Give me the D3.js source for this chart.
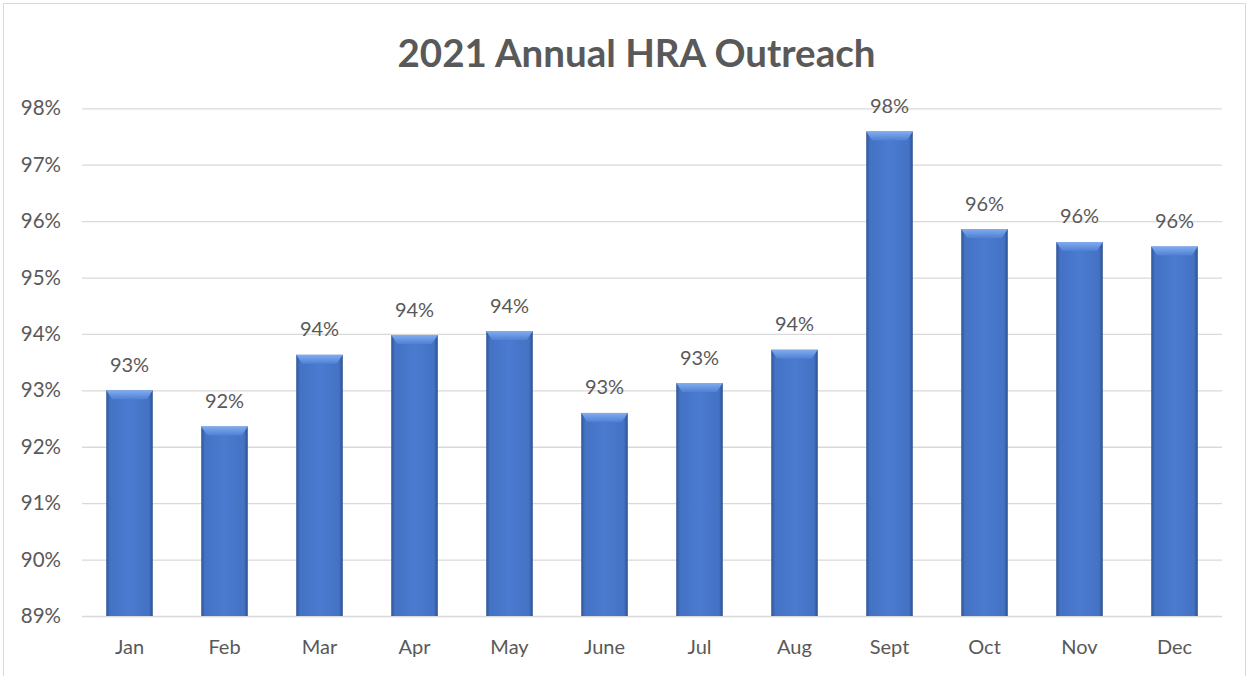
<!DOCTYPE html>
<html>
<head>
<meta charset="utf-8">
<script src="https://cdn.jsdelivr.net/npm/d3@7"></script>
<style>
  body { margin: 0; background: #fff; }
  text { font-family: Lato, "Open Sans", sans-serif; }
</style>
</head>
<body>
<div id="chart"></div>
<script>
// Veriler
const months = ["Jan", "Feb", "Mar", "Apr", "May", "June", "Jul", "Aug", "Sept", "Oct", "Nov", "Dec"];
const outreach = [93.0, 92.36, 93.63, 93.98, 94.05, 92.6, 93.13, 93.72, 97.59, 95.86, 95.63, 95.55];
const yTicks = [89, 90, 91, 92, 93, 94, 95, 96, 97, 98];

const width = 1249;
const height = 676;
const plotLeft = 82, plotRight = 1222, plotTop = 108.3, plotBottom = 616;

const svg = d3.select('#chart')
    .append('svg')
    .attr('width', width)
    .attr('height', height);

// Dış çerçeve
svg.append("rect")
    .attr("x", 3.5).attr("y", 3.5)
    .attr("width", width - 7).attr("height", height)
    .attr("fill", "#fff")
    .attr("stroke", "#d9d9d9");

const x = d3.scaleBand()
    .domain(months)
    .range([plotLeft, plotRight])
    .paddingInner(0.51)
    .paddingOuter(0.255);

const y = d3.scaleLinear()
    .domain([89, 98])
    .range([plotBottom, plotTop]);

// Gradyanlar
const defs = svg.append("defs");
const grad = defs.append("linearGradient").attr("id", "barGrad")
    .attr("x1", "0").attr("x2", "1").attr("y1", "0").attr("y2", "0");
grad.append("stop").attr("offset", "0").attr("stop-color", "#2f5597");
grad.append("stop").attr("offset", "0.08").attr("stop-color", "#4472c4");
grad.append("stop").attr("offset", "0.5").attr("stop-color", "#4a7bd0");
grad.append("stop").attr("offset", "0.92").attr("stop-color", "#4472c4");
grad.append("stop").attr("offset", "1").attr("stop-color", "#2b4f8f");

const bevel = defs.append("linearGradient").attr("id", "bevelGrad")
    .attr("x1", "0").attr("x2", "0").attr("y1", "0").attr("y2", "1");
bevel.append("stop").attr("offset", "0").attr("stop-color", "#82acef");
bevel.append("stop").attr("offset", "1").attr("stop-color", "#4f80d4");

// Başlık
svg.append("text")
    .attr("x", width / 2 + 12)
    .attr("y", 67)
    .attr("text-anchor", "middle")
    .attr("font-size", 38.5)
    .attr("font-weight", "bold")
    .attr("fill", "#595959")
    .text("2021 Annual HRA Outreach");

// Izgara çizgileri ve y ekseni
const yAxis = svg.append("g")
    .attr("transform", `translate(${plotLeft},0)`)
    .call(d3.axisLeft(y).tickValues(yTicks).tickSize(-(plotRight - plotLeft)).tickFormat(d => d + "%"));
yAxis.select(".domain").remove();
yAxis.selectAll("line").attr("stroke", "#d9d9d9").attr("stroke-width", 1.3);
yAxis.selectAll("text")
    .attr("x", -21)
    .attr("font-size", 20.5)
    .attr("fill", "#595959")
    .style("font-family", "Lato, sans-serif");

// x ekseni
const xAxis = svg.append("g")
    .attr("transform", `translate(0,${plotBottom})`)
    .call(d3.axisBottom(x).tickSize(0).tickPadding(24));
xAxis.select(".domain").remove();
xAxis.selectAll("text")
    .attr("font-size", 20)
    .attr("fill", "#595959")
    .style("font-family", "Lato, sans-serif");

// Çubuklar
const bars = svg.append("g").selectAll("g")
    .data(outreach)
    .join("g");

bars.append("rect")
    .attr("x", (d, i) => x(months[i]))
    .attr("y", d => y(d))
    .attr("width", x.bandwidth())
    .attr("height", d => plotBottom - y(d))
    .attr("fill", "url(#barGrad)");

// Üst eğim
bars.append("path")
    .attr("d", (d, i) => {
        const x0 = x(months[i]), w = x.bandwidth(), t = y(d);
        return `M${x0},${t}L${x0 + w},${t}L${x0 + w - 6},${t + 9}L${x0 + 6},${t + 9}Z`;
    })
    .attr("fill", "url(#bevelGrad)");

// Değer etiketleri
bars.append("text")
    .attr("x", (d, i) => x(months[i]) + x.bandwidth() / 2)
    .attr("y", d => y(d) - 18.5)
    .attr("text-anchor", "middle")
    .attr("font-size", 20)
    .attr("fill", "#595959")
    .text(d => Math.round(d) + "%");
</script>
</body>
</html>
